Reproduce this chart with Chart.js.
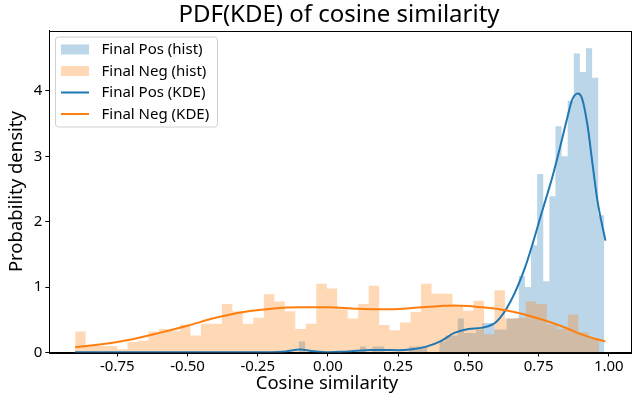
<!DOCTYPE html>
<html>
<head>
<meta charset="utf-8">
<script src="https://cdn.jsdelivr.net/npm/chart.js@4.4.0/dist/chart.umd.min.js"></script>
<style>
html,body{margin:0;padding:0;background:#fff}
#wrap{width:635px;height:397px}
</style>
</head>
<body>
<div id="wrap"><canvas id="c" width="635" height="397"></canvas></div>
<script>
// --- data ---
const TITLE='PDF(KDE) of cosine similarity';
const X_LABEL='Cosine similarity';
const xTicks=[-0.75,-0.5,-0.25,0,0.25,0.5,0.75,1.0];
const yTicks=[0,1,2,3,4];
const nBins=50;
const negRange=[-0.900,0.966];
const posRange=[-0.103,0.984];
const negHist=[0.32,0.10,0.10,0.10,0.05,0.16,0.18,0.32,0.36,0.33,
  0.43,0.26,0.44,0.44,0.74,0.63,0.44,0.53,0.89,0.78,
  0.63,0.36,0.44,1.05,0.98,0.66,0.52,0.74,1.02,0.42,
  0.34,0.46,0.62,1.05,0.90,0.90,0.72,0.64,0.79,0.28,
  0.95,0.52,0.53,0.78,0.74,0.43,0.36,0.58,0.31,0.21];
const posHist=[0.17,0,0,0,0,0,0,0,0,0,
  0.09,0,0.09,0.09,0,0,0,0,0.09,0.09,
  0.09,0,0,0.17,0.26,0.26,0.52,0.30,0.30,0.35,
  0.45,0.45,0.35,0.35,0.52,0.52,1.17,1.00,1.64,2.73,
  1.09,2.39,3.46,3.00,3.85,4.57,4.29,4.65,4.20,2.10];
const posKdeX=[-0.9,-0.5,-0.2,-0.15,-0.1,-0.05,0,0.05,0.1,0.15,0.2,0.25,0.3,0.35,0.4,0.45,0.5,0.55,0.6,0.65,0.7,0.73,0.76,0.8,0.83,0.85,0.87,0.89,0.905,0.925,0.94,0.96,0.988];
const posKdeY=[0.003,0.003,0.003,0.015,0.045,0.02,0.005,0.01,0.025,0.04,0.04,0.035,0.05,0.09,0.17,0.30,0.36,0.38,0.47,0.78,1.28,1.68,2.12,2.70,3.20,3.55,3.87,3.96,3.88,3.45,2.95,2.31,1.71];
const negKdeX=[-0.9,-0.8,-0.7,-0.6,-0.5,-0.4,-0.3,-0.2,-0.1,0,0.1,0.2,0.3,0.4,0.45,0.5,0.55,0.6,0.65,0.7,0.75,0.8,0.85,0.9,0.95,0.988];
const negKdeY=[0.08,0.13,0.20,0.30,0.41,0.53,0.62,0.67,0.69,0.69,0.67,0.66,0.68,0.71,0.72,0.71,0.69,0.67,0.63,0.58,0.52,0.45,0.37,0.28,0.21,0.17];

const BLUE='#1f77b4', ORANGE='#ff7f0e';
const FONT='"Noto Sans", "DejaVu Sans", sans-serif';

function edges(r,n){ const w=(r[1]-r[0])/n; const e=[]; for(let i=0;i<=n;i++) e.push(r[0]+i*w); return e; }
function histPts(r,h){
  const e=edges(r,h.length);
  const pts=h.map((v,i)=>({x:e[i],y:v}));
  pts.push({x:e[h.length],y:h[h.length-1]});
  return pts;
}
const xy=(xs,ys)=>xs.map((x,i)=>({x,y:ys[i]}));

const frame={id:'frame',afterDatasetsDraw(chart){
  const{ctx,chartArea:{left,right,top,bottom}}=chart;
  ctx.save();ctx.strokeStyle='#000';ctx.lineWidth=1;
  ctx.strokeRect(Math.round(left)+0.5,Math.round(top)+0.5,Math.round(right-left),Math.round(bottom-top));
  ctx.restore();
}};
const texts={id:'texts',afterDraw(chart){
  const{ctx}=chart;
  ctx.save();ctx.fillStyle='#000';ctx.textAlign='center';ctx.textBaseline='middle';
  ctx.font='24px '+FONT;ctx.fillText(TITLE,339,15);
  ctx.font='18.5px '+FONT;ctx.fillText(X_LABEL,327,384);
  ctx.restore();
}};
const legendBox={id:'legendBox',afterDraw(chart){
  const{ctx}=chart;
  const items=[
    {t:'Final Pos (hist)',k:'patch',c:'rgba(31,119,180,0.3)'},
    {t:'Final Neg (hist)',k:'patch',c:'rgba(255,127,14,0.3)'},
    {t:'Final Pos (KDE)',k:'line',c:BLUE},
    {t:'Final Neg (KDE)',k:'line',c:ORANGE}];
  ctx.save();
  const x=55.5,y=37,w=162,h=90,r=3;
  ctx.beginPath();ctx.roundRect(x,y,w,h,r);
  ctx.fillStyle='rgba(255,255,255,0.8)';ctx.fill();
  ctx.strokeStyle='#d0d0d0';ctx.lineWidth=1;ctx.stroke();
  ctx.font='15px '+FONT;ctx.textBaseline='middle';ctx.textAlign='left';
  items.forEach((it,i)=>{
    const cy=49.5+i*21.5;
    if(it.k==='patch'){ctx.fillStyle=it.c;ctx.fillRect(61,cy-5,28,10);}
    else{ctx.strokeStyle=it.c;ctx.lineWidth=2;ctx.beginPath();ctx.moveTo(61,cy);ctx.lineTo(89,cy);ctx.stroke();}
    ctx.fillStyle='#000';ctx.fillText(it.t,101.5,cy+0.5);
  });
  ctx.restore();
}};

new Chart(document.getElementById('c'),{
  type:'line',
  data:{datasets:[
    {label:'Final Pos (hist)',data:histPts(posRange,posHist),stepped:true,fill:'origin',
     backgroundColor:'rgba(31,119,180,0.3)',borderColor:'transparent',borderWidth:0,pointRadius:0,order:3},
    {label:'Final Neg (hist)',data:histPts(negRange,negHist),stepped:true,fill:'origin',
     backgroundColor:'rgba(255,127,14,0.3)',borderColor:'transparent',borderWidth:0,pointRadius:0,order:2},
    {label:'Final Pos (KDE)',data:xy(posKdeX,posKdeY),borderColor:BLUE,borderWidth:2,pointRadius:0,
     cubicInterpolationMode:'monotone',fill:false,order:1},
    {label:'Final Neg (KDE)',data:xy(negKdeX,negKdeY),borderColor:ORANGE,borderWidth:2,pointRadius:0,
     cubicInterpolationMode:'monotone',fill:false,order:0}
  ]},
  options:{
    responsive:false,animation:false,devicePixelRatio:1,
    layout:{padding:{top:30.7,right:4,left:0,bottom:0}},
    plugins:{legend:{display:false},tooltip:{enabled:false}},
    scales:{
      x:{type:'linear',min:-0.992,max:1.079,
        afterBuildTicks:s=>{s.ticks=xTicks.map(v=>({value:v}));},
        ticks:{callback:v=>v.toFixed(2),color:'#000',font:{family:FONT,size:15},padding:1,maxRotation:0,autoSkip:false},
        grid:{drawOnChartArea:false,drawTicks:true,tickLength:4,color:'#000'},
        border:{display:true,color:'#000',width:1},
        afterFit:s=>{s.height=44.5;}},
      y:{type:'linear',min:0,max:4.92,
        afterBuildTicks:s=>{s.ticks=yTicks.map(v=>({value:v}));},
        ticks:{callback:v=>String(v),color:'#000',font:{family:FONT,size:15},padding:3},
        grid:{drawOnChartArea:false,drawTicks:true,tickLength:4,color:'#000'},
        border:{display:true,color:'#000',width:1},
        title:{display:true,text:'Probability density',color:'#000',font:{family:FONT,size:18.5},padding:{top:6,bottom:0}},
        afterFit:s=>{s.width=49.3;}}
    }
  },
  plugins:[frame,texts,legendBox]
});
</script>
</body>
</html>
